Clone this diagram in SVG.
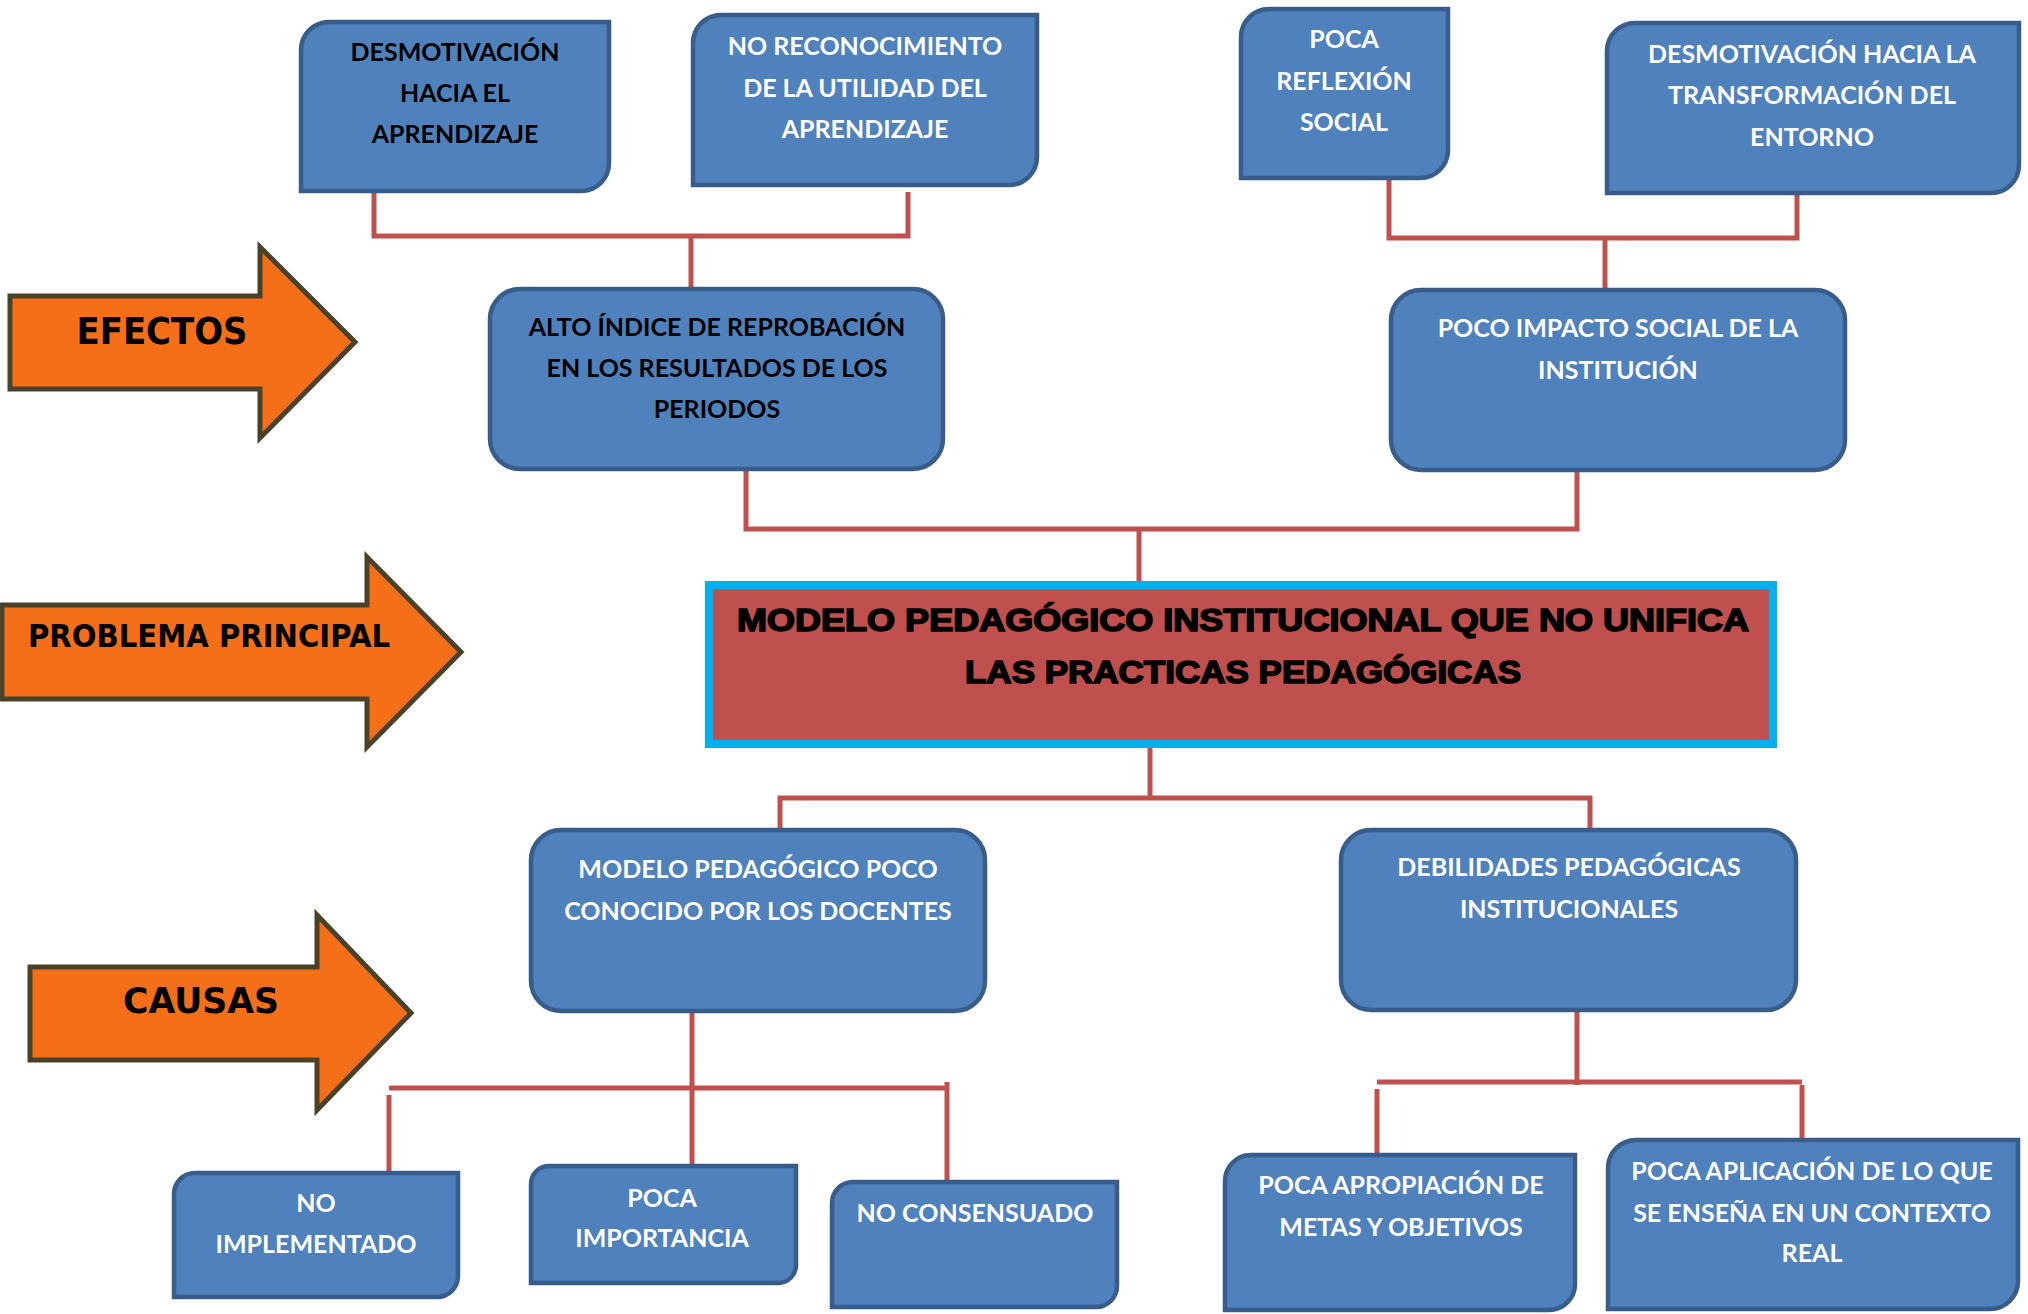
<svg xmlns="http://www.w3.org/2000/svg" width="2028" height="1314" viewBox="0 0 2028 1314">
<style>
.box{fill:#4f81bd;stroke:#385d8a;stroke-width:4.5}
.main{fill:#c0504d;stroke:#00b0f0;stroke-width:8}
.arrow{fill:#f46f18;stroke:#4a4228;stroke-width:5}
.conn{fill:none;stroke:#c0504d;stroke-width:5}
.t{font-family:Lato,"Liberation Sans",sans-serif;font-weight:bold;font-size:25px;text-anchor:middle;fill:#ffffff}
.tb{fill:#000000}
.tm{font-family:"Liberation Sans",Arial,sans-serif;font-weight:bold;font-size:32px;text-anchor:middle;fill:#000;stroke:#000;stroke-width:1.6}
.ta{font-family:"Comic Sans MS","DejaVu Sans",sans-serif;font-weight:bold;text-anchor:middle;fill:#000}
</style>
<rect width="2028" height="1314" fill="#ffffff"/>
<g id="connectors">
<path class="conn" d="M374,191 V236 H908 V192"/>
<path class="conn" d="M691,236 V289"/>
<path class="conn" d="M1389,178 V238 H1797 V193"/>
<path class="conn" d="M1605,238 V290"/>
<path class="conn" d="M746,469 V529 H1577 V471"/>
<path class="conn" d="M1139,529 V582"/>
<path class="conn" d="M1150,748 V798"/>
<path class="conn" d="M780,830 V798 H1590 V830"/>
<path class="conn" d="M692,1005 V1166"/>
<path class="conn" d="M389,1088 H947"/>
<path class="conn" d="M389,1095 V1175"/>
<path class="conn" d="M947,1082 V1182"/>
<path class="conn" d="M1577,1011 V1085"/>
<path class="conn" d="M1377,1082 H1802"/>
<path class="conn" d="M1377,1089 V1155"/>
<path class="conn" d="M1802,1085 V1140"/>
</g>
<g id="arrow-efectos">
<polygon class="arrow" points="10,296 260,296 260,247 355,342 260,438 260,389 10,389"/>
<text class="ta" x="162" y="344" font-size="38" textLength="171" lengthAdjust="spacingAndGlyphs">EFECTOS</text>
</g>
<g id="arrow-problema">
<polygon class="arrow" points="2,605 367,605 367,557 461,652 367,747 367,699 2,699"/>
<text class="ta" x="209" y="647" font-size="32" textLength="362" lengthAdjust="spacingAndGlyphs">PROBLEMA PRINCIPAL</text>
</g>
<g id="arrow-causas">
<polygon class="arrow" points="30,967 317,967 317,915 411,1013 317,1110 317,1060 30,1060"/>
<text class="ta" x="201" y="1013" font-size="35" textLength="156" lengthAdjust="spacingAndGlyphs">CAUSAS</text>
</g>
<g id="e1">
<path class="box" d="M329,22 H609 V163 A28 28 0 0 1 581,191 H301 V50 A28 28 0 0 1 329,22 Z"/>
<text class="t tb" x="455" y="61">DESMOTIVACIÓN</text>
<text class="t tb" x="455" y="102">HACIA EL</text>
<text class="t tb" x="455" y="143">APRENDIZAJE</text>
</g>
<g id="e2">
<path class="box" d="M721,15 H1037 V157 A28 28 0 0 1 1009,185 H693 V43 A28 28 0 0 1 721,15 Z"/>
<text class="t" x="865" y="55">NO RECONOCIMIENTO</text>
<text class="t" x="865" y="97">DE LA UTILIDAD DEL</text>
<text class="t" x="865" y="138">APRENDIZAJE</text>
</g>
<g id="e3">
<path class="box" d="M1269,9 H1448 V150 A28 28 0 0 1 1420,178 H1241 V37 A28 28 0 0 1 1269,9 Z"/>
<text class="t" x="1344" y="48">POCA</text>
<text class="t" x="1344" y="90">REFLEXIÓN</text>
<text class="t" x="1344" y="131">SOCIAL</text>
</g>
<g id="e4">
<path class="box" d="M1635,23 H2019 V165 A28 28 0 0 1 1991,193 H1607 V51 A28 28 0 0 1 1635,23 Z"/>
<text class="t" x="1812" y="63">DESMOTIVACIÓN HACIA LA</text>
<text class="t" x="1812" y="104">TRANSFORMACIÓN DEL</text>
<text class="t" x="1812" y="146">ENTORNO</text>
</g>
<g id="f1">
<rect class="box" x="490" y="289" width="453" height="180" rx="30"/>
<text class="t tb" x="717" y="336">ALTO ÍNDICE DE REPROBACIÓN</text>
<text class="t tb" x="717" y="377">EN LOS RESULTADOS DE LOS</text>
<text class="t tb" x="717" y="418">PERIODOS</text>
</g>
<g id="f2">
<rect class="box" x="1391" y="290" width="454" height="180" rx="30"/>
<text class="t" x="1618" y="337">POCO IMPACTO SOCIAL DE LA</text>
<text class="t" x="1618" y="379">INSTITUCIÓN</text>
</g>
<g id="main">
<rect class="main" x="709" y="585" width="1064" height="159"/>
<text class="tm" x="1243" y="631" textLength="1012" lengthAdjust="spacingAndGlyphs">MODELO PEDAGÓGICO INSTITUCIONAL QUE NO UNIFICA</text>
<text class="tm" x="1243" y="683" textLength="556" lengthAdjust="spacingAndGlyphs">LAS PRACTICAS PEDAGÓGICAS</text>
</g>
<g id="c1">
<rect class="box" x="531" y="830" width="454" height="181" rx="30"/>
<text class="t" x="758" y="878">MODELO PEDAGÓGICO POCO</text>
<text class="t" x="758" y="920">CONOCIDO POR LOS DOCENTES</text>
</g>
<g id="c2">
<rect class="box" x="1341" y="830" width="455" height="180" rx="30"/>
<text class="t" x="1569" y="876">DEBILIDADES PEDAGÓGICAS</text>
<text class="t" x="1569" y="918">INSTITUCIONALES</text>
</g>
<g id="d1">
<path class="box" d="M195,1173 H458 V1276 A21 21 0 0 1 437,1297 H174 V1194 A21 21 0 0 1 195,1173 Z"/>
<text class="t" x="316" y="1212">NO</text>
<text class="t" x="316" y="1253">IMPLEMENTADO</text>
</g>
<g id="d2">
<path class="box" d="M549,1166 H796 V1265 A18 18 0 0 1 778,1283 H531 V1184 A18 18 0 0 1 549,1166 Z"/>
<text class="t" x="662" y="1207">POCA</text>
<text class="t" x="662" y="1247">IMPORTANCIA</text>
</g>
<g id="d3">
<path class="box" d="M853,1182 H1117 V1286 A21 21 0 0 1 1096,1307 H832 V1203 A21 21 0 0 1 853,1182 Z"/>
<text class="t" x="975" y="1222">NO CONSENSUADO</text>
</g>
<g id="d4">
<path class="box" d="M1251,1155 H1575 V1284 A26 26 0 0 1 1549,1310 H1225 V1181 A26 26 0 0 1 1251,1155 Z"/>
<text class="t" x="1401" y="1194">POCA APROPIACIÓN DE</text>
<text class="t" x="1401" y="1236">METAS Y OBJETIVOS</text>
</g>
<g id="d5">
<path class="box" d="M1636,1140 H2018 V1281 A28 28 0 0 1 1990,1309 H1608 V1168 A28 28 0 0 1 1636,1140 Z"/>
<text class="t" x="1812" y="1180">POCA APLICACIÓN DE LO QUE</text>
<text class="t" x="1812" y="1222">SE ENSEÑA EN UN CONTEXTO</text>
<text class="t" x="1812" y="1262">REAL</text>
</g>
</svg>
